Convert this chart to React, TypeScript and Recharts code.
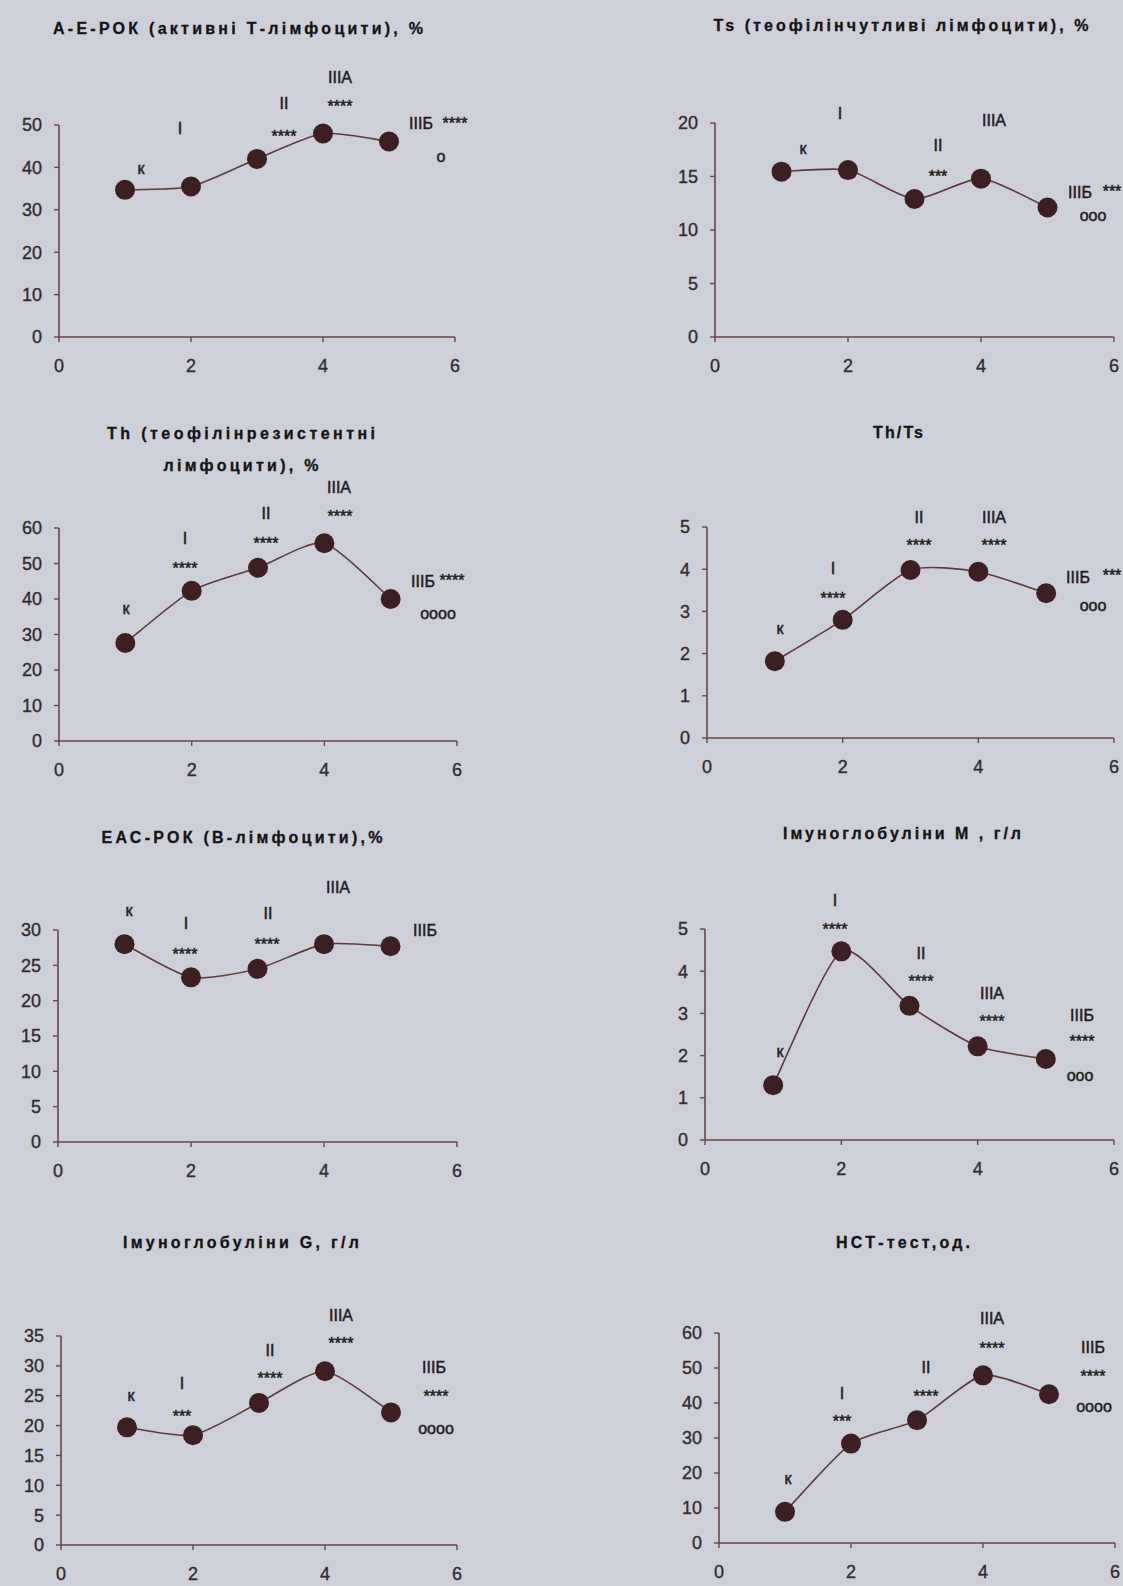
import { LineChart, Line, XAxis, YAxis } from 'recharts'

// group positions on the x axis (к, I, II, IIIA, IIIБ)
const groupX = [1, 2, 3, 4, 5]
const xTicks = [0, 2, 4, 6]

// values
const aeRok = [34.7, 35.5, 42.0, 48.0, 46.1]
const tsLymph = [15.45, 15.6, 12.9, 14.8, 12.1]
const thLymph = [27.6, 42.3, 48.8, 55.7, 40.0]
const thTs = [1.82, 2.8, 3.98, 3.94, 3.43]
const eacRok = [28.0, 23.3, 24.5, 28.0, 27.7]
const igM = [1.3, 4.47, 3.18, 2.22, 1.92]
const igG = [19.7, 18.4, 23.8, 29.1, 22.2]
const nst = [8.9, 28.4, 35.1, 47.9, 42.5]

const ticks50 = [0, 10, 20, 30, 40, 50]
const ticks20 = [0, 5, 10, 15, 20]
const ticks60 = [0, 10, 20, 30, 40, 50, 60]
const ticks5 = [0, 1, 2, 3, 4, 5]
const ticks30 = [0, 5, 10, 15, 20, 25, 30]
const ticks35 = [0, 5, 10, 15, 20, 25, 30, 35]

const AXIS = '#6e4547'
const TICK = '#332b2c'
const DOT = '#3b1f23'
const LINE = '#5e3a3c'
const FONT = '"Liberation Sans", Arial, sans-serif'

// Excel-like smoothed line (mild Catmull-Rom as bezier)
function smoothCurve(context: any) {
  let pts: number[][] = []
  return {
    areaStart() {},
    areaEnd() {},
    lineStart() {
      pts = []
    },
    lineEnd() {
      if (!pts.length) return
      context.moveTo(pts[0][0], pts[0][1])
      for (let i = 0; i < pts.length - 1; i++) {
        const p0 = pts[i - 1] || pts[i]
        const p1 = pts[i]
        const p2 = pts[i + 1]
        const p3 = pts[i + 2] || p2
        const t = 1 / 9
        context.bezierCurveTo(
          p1[0] + (p2[0] - p0[0]) * t,
          p1[1] + (p2[1] - p0[1]) * t,
          p2[0] - (p3[0] - p1[0]) * t,
          p2[1] - (p3[1] - p1[1]) * t,
          p2[0],
          p2[1]
        )
      }
    },
    point(x: number, y: number) {
      pts.push([+x, +y])
    },
  }
}

const panels = [
  { values: aeRok, yTicks: ticks50, axisX: 59, yTop: 125, y0: 337, xRight: 455 },
  { values: tsLymph, yTicks: ticks20, axisX: 715, yTop: 123, y0: 337, xRight: 1114 },
  { values: thLymph, yTicks: ticks60, axisX: 59, yTop: 528, y0: 741, xRight: 457 },
  { values: thTs, yTicks: ticks5, axisX: 707, yTop: 527, y0: 738, xRight: 1114 },
  { values: eacRok, yTicks: ticks30, axisX: 58, yTop: 930, y0: 1142, xRight: 457 },
  { values: igM, yTicks: ticks5, axisX: 705, yTop: 929, y0: 1140, xRight: 1114 },
  { values: igG, yTicks: ticks35, axisX: 61, yTop: 1336, y0: 1545, xRight: 457 },
  { values: nst, yTicks: ticks60, axisX: 719, yTop: 1333, y0: 1543, xRight: 1115 },
]

// [text, centre x, centre y, width]
const titles: [string, number, number, number][] = [
  ['А-Е-РОК (активні Т-лімфоцити), %', 238, 28, 370],
  ['Ts (теофілінчутливі лімфоцити), %', 901, 25, 375],
  ['Th (теофілінрезистентні', 241, 433, 268],
  ['лімфоцити), %', 241, 465, 155],
  ['Th/Ts', 898, 432, 50],
  ['ЕАС-РОК (В-лімфоцити),%', 242, 837, 281],
  ['Імуноглобуліни М , г/л', 902, 833, 238],
  ['Імуноглобуліни G, г/л', 241, 1242, 236],
  ['НСТ-тест,од.', 903, 1242, 134],
]

// group marks [text, centre x, centre y]
const marks: [string, number, number][] = [
  ['к', 141, 170], ['I', 180, 128], ['II', 284, 103], ['****', 284, 133], ['IIIA', 340, 77],
  ['****', 340, 103], ['IIIБ', 421, 123], ['****', 455, 120], ['o', 441, 158],

  ['к', 803, 150], ['I', 840, 113], ['II', 938, 145], ['***', 938, 173], ['IIIA', 994, 120],
  ['IIIБ', 1080, 192], ['***', 1112, 188], ['ooo', 1093, 217],

  ['к', 126, 610], ['I', 185, 538], ['****', 185, 565], ['II', 266, 513], ['****', 266, 540],
  ['IIIA', 339, 487], ['****', 340, 513], ['IIIБ', 423, 581], ['****', 452, 577], ['oooo', 438, 615],

  ['к', 780, 630], ['I', 833, 568], ['****', 833, 595], ['II', 919, 517], ['****', 919, 542],
  ['IIIA', 994, 517], ['****', 994, 542], ['IIIБ', 1078, 577], ['***', 1112, 572], ['ooo', 1093, 607],

  ['к', 129, 912], ['I', 186, 923], ['****', 185, 951], ['II', 268, 913], ['****', 267, 941],
  ['IIIA', 338, 887], ['IIIБ', 425, 930],

  ['к', 780, 1053], ['I', 835, 900], ['****', 835, 926], ['II', 921, 953], ['****', 921, 978],
  ['IIIA', 992, 993], ['****', 992, 1018], ['IIIБ', 1082, 1015], ['****', 1082, 1038], ['ooo', 1080, 1077],

  ['к', 131, 1397], ['I', 182, 1383], ['***', 182, 1413], ['II', 270, 1350], ['****', 270, 1375],
  ['IIIA', 341, 1315], ['****', 341, 1340], ['IIIБ', 434, 1367], ['****', 436, 1393], ['oooo', 436, 1430],

  ['к', 788, 1480], ['I', 842, 1393], ['***', 842, 1418], ['II', 926, 1367], ['****', 926, 1393],
  ['IIIA', 992, 1318], ['****', 992, 1345], ['IIIБ', 1093, 1347], ['****', 1093, 1373], ['oooo', 1094, 1408],
]

const YW = 56
const MT = 15
const XH = 40
const MR = 22

const tickStyle = { fill: TICK, stroke: TICK, strokeWidth: 0.35, fontSize: 18, fontFamily: FONT }

function Panel({ p }: { p: (typeof panels)[number] }) {
  const data = groupX.map((x, i) => ({ x, v: p.values[i] }))
  const yMax = p.yTicks[p.yTicks.length - 1]
  return (
    <div style={{ position: 'absolute', left: p.axisX - YW, top: p.yTop - MT }}>
      <LineChart
        width={YW + p.xRight - p.axisX + MR}
        height={MT + p.y0 - p.yTop + XH}
        data={data}
        margin={{ top: MT, right: MR, bottom: 0, left: 0 }}
      >
        <XAxis
          dataKey="x"
          type="number"
          domain={[0, 6]}
          ticks={xTicks}
          interval={0}
          height={XH}
          axisLine={{ stroke: AXIS, strokeWidth: 1.6 }}
          tickLine={{ stroke: AXIS, strokeWidth: 1.4 }}
          tickSize={5}
          tickMargin={17}
          tick={tickStyle}
        />
        <YAxis
          type="number"
          domain={[0, yMax]}
          ticks={p.yTicks}
          interval={0}
          width={YW}
          axisLine={{ stroke: AXIS, strokeWidth: 1.6 }}
          tickLine={{ stroke: AXIS, strokeWidth: 1.4 }}
          tickSize={5}
          tickMargin={12}
          tick={tickStyle}
        />
        <Line
          dataKey="v"
          type={smoothCurve as any}
          stroke={LINE}
          strokeWidth={1.6}
          dot={{ r: 10, fill: DOT, stroke: DOT, strokeWidth: 0 }}
          activeDot={false}
          isAnimationActive={false}
        />
      </LineChart>
    </div>
  )
}

function baselineShift(t: string) {
  if (/^\*+$/.test(t)) return 9
  if (/^[a-zа-я]+$/.test(t)) return 4
  return 6
}

export default function App() {
  return (
    <div
      style={{
        position: 'absolute',
        left: 0,
        top: 0,
        width: 1123,
        height: 1586,
        background: '#cdd0d8',
        overflow: 'hidden',
        fontFamily: FONT,
      }}
    >
      {panels.map((p, i) => (
        <Panel key={i} p={p} />
      ))}
      <svg
        width={1123}
        height={1586}
        style={{ position: 'absolute', left: 0, top: 0, pointerEvents: 'none' }}
      >
        {titles.map(([t, x, y, w], i) => (
          <text
            key={'t' + i}
            x={x}
            y={y + 6}
            textAnchor="middle"
            textLength={w}
            lengthAdjust="spacing"
            fontSize={16}
            fontWeight="bold"
            fill="#151314"
            stroke="#151314"
            strokeWidth={0.3}
            fontFamily={FONT}
          >
            {t}
          </text>
        ))}
        {marks.map(([t, x, y], i) => (
          <text
            key={'m' + i}
            x={x}
            y={y + baselineShift(t)}
            textAnchor="middle"
            fontSize={16}
            fill="#241d1f"
            stroke="#241d1f"
            strokeWidth={0.5}
            fontFamily={FONT}
          >
            {t}
          </text>
        ))}
      </svg>
    </div>
  )
}
